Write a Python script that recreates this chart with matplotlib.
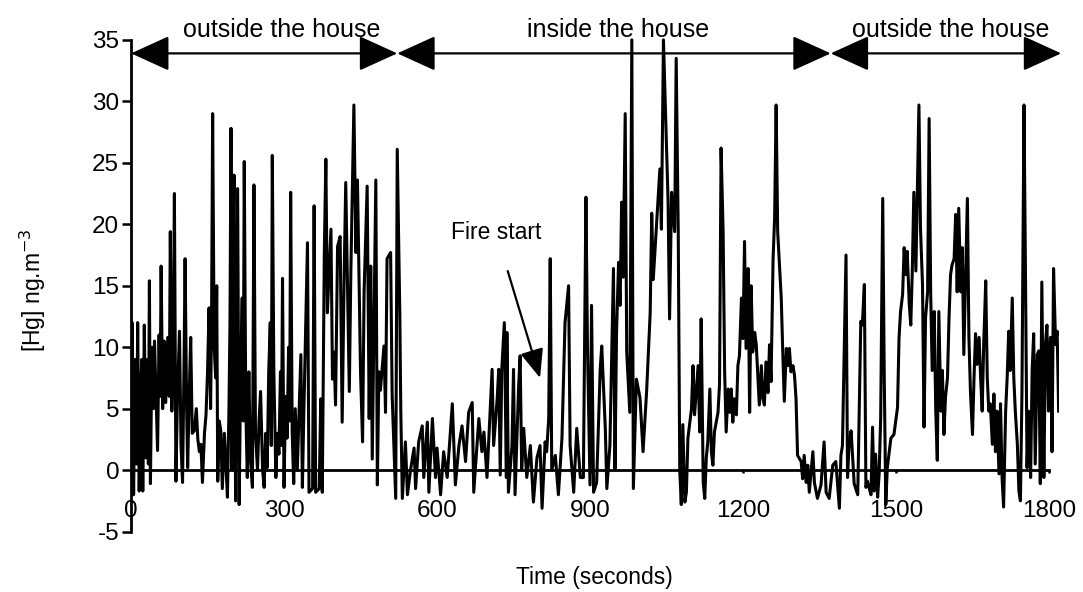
import matplotlib
matplotlib.use('Agg')
import matplotlib.pyplot as plt
from matplotlib.patches import FancyArrowPatch
import numpy as np

plt.rcParams['font.family'] = ['Liberation Sans', 'DejaVu Sans']

time_out1 = [0, 2, 5, 8, 11, 13, 16, 19, 21, 23, 26, 29, 32, 34, 36, 38, 41, 44, 46, 49,
             52, 55, 57, 59, 62, 65, 68, 72, 75, 77, 80, 83, 85, 88, 91, 95, 98, 101, 104, 106,
             109, 111, 114, 117, 120, 124, 128, 131, 134, 137, 140, 144, 147, 150, 153, 156, 158, 160, 163, 166,
             168, 170, 173, 176, 179, 183, 186, 189, 192, 194, 196, 198, 200, 202, 205, 207, 209, 212, 215, 218,
             220, 222, 225, 228, 231, 234, 238, 241, 244, 248, 251, 254, 258, 261, 264, 267, 270, 273, 275, 277,
             280, 284, 287, 290, 293, 295, 297, 300, 303, 306, 309, 311, 313, 316, 319, 322, 326, 329, 333, 336,
             339, 342, 346, 349, 356, 359, 362, 369, 372, 375, 379, 382, 385, 392, 395, 398, 401, 405, 410, 414,
             418, 421, 428, 431, 437, 441, 444, 450, 454, 457, 463, 467, 470, 473, 480, 483, 486, 489, 496, 499,
             502, 509, 512, 519, 522, 527, 529, 532]
hg_out1 = [5, 12, -2, 9, 0.5, 12, -1.7, 6.7, 9, -1.7, 11.8, 1, 9, 0.5, 15.4, -1.1, 10, 5, 10.5, 6,
           1.6, 11, 6, 16.6, 5, 10.5, 5.5, 10.8, 6, 19.4, 4.8, 11, 22.5, -0.9, 6, 11.3, 2, -1, 9, 17.2,
           5, 0.2, 6, 10.8, 3, 3.2, 5, 2.5, 1.5, 2.1, -1, 3, 4.5, 8, 13.2, 5, 13, 29, 10, 7.5,
           15, -0.9, 4, 3.2, -1.5, 3, 0.5, -2.2, 5, 12, 27.8, 0, 18, 24, -2.5, 10, 22.9, -2.8, 8, 14,
           4, 25.1, 5, -0.6, 8, 1, -1.4, 23.2, 3, 0, 4, 6.4, 0, -1.4, 3, 0.2, 8, 12, 2, 25.6,
           8, -0.6, 3, 1.3, 8, 2, 15.6, -1.4, 6, 2.6, 10, 4, 22.6, 3, -1.1, 5, 0, 4, 9.4, -1.4,
           5, 10.8, 18.5, -1.8, -1.5, 21.5, -1.8, -1.5, 5.8, -1.8, 17.7, 25.3, 12.8, 19.6, 7.4, 9.6, 5.3, 18.2, 19, 3.9,
           16.1, 23.4, 6.4, 16.1, 29.7, 17.7, 23.6, 8, 2.3, 14.5, 23.1, 4.2, 16.6, 0.9, 23.6, -1.2, 8, 6.5, 10.1, 4.7,
           17.2, 17.7, 6.1, -2.3, 26.1, 12.8, 4.7, -2.3]

time_in = [538, 542, 548, 555, 558, 564, 571, 574, 581, 584, 591, 597, 600, 607, 613, 620, 630, 636, 643, 649,
           656, 662, 669, 672, 682, 688, 692, 698, 708, 711, 718, 721, 724, 727, 732, 736, 737, 740, 747, 750,
           753, 760, 763, 766, 770, 776, 783, 789, 796, 802, 806, 812, 815, 819, 822, 825, 832, 838, 845, 851,
           858, 861, 868, 874, 881, 887, 892, 895, 900, 903, 907, 913, 920, 923, 930, 933, 939, 946, 949, 952,
           956, 959, 962, 965, 969, 972, 978, 982, 985, 991, 998, 1004, 1011, 1018, 1021, 1024, 1037, 1040, 1044, 1053,
           1056, 1060, 1066, 1069, 1073, 1076, 1079, 1082, 1086, 1089, 1092, 1099, 1102, 1105, 1112, 1115, 1118, 1122, 1125, 1128,
           1131, 1135, 1138, 1141, 1144, 1151, 1154, 1157, 1161, 1164, 1167, 1171, 1174, 1177, 1180, 1183, 1187, 1190, 1193, 1197,
           1200, 1203, 1206, 1210, 1213, 1216, 1219, 1223, 1226, 1229, 1232, 1236, 1239, 1242, 1245, 1249, 1252, 1255, 1259, 1262,
           1265, 1268, 1275, 1278, 1281, 1285, 1288, 1291, 1294, 1298, 1301, 1304, 1307, 1314, 1317, 1320, 1324, 1327, 1330, 1337,
           1340, 1346, 1353, 1359, 1363, 1369]
hg_in = [2.3, -2, 0, 1.8, -1.5, 2.3, 3.6, -0.6, 3.9, -1.8, 4.2, -0.6, 1.8, -2, 1.5, -0.6, 5.4, -1.2, 2, 3.6,
         0.7, 4.7, 5.5, -1.8, 4.2, 1.5, 3.1, -0.6, 8.2, 2, 5.8, 8.2, -0.4, 8.2, 12, -0.6, 11.2, -1.8, 2, 8.2,
         -2, 6.8, 9.3, 0, 3.4, -0.6, 2, -2.6, 1, 2, -3.1, 2.3, 1.5, 4.2, 17.2, 0, 1.2, -2, 2.6, 12,
         15, 2, -1.8, 3.4, -0.6, -0.6, 22.2, 10.1, -1.2, 13.4, -1.8, -1, 8.2, 10.1, 3.4, -1.5, 2, 16.4, 0.1, 11.2,
         16.9, 13.4, 21.8, 15.7, 29, 9.6, 4.7, 35.0, -1.5, 7.4, 5.9, 1.5, 6.4, 12.8, 20.9, 15.5, 24.5, 19.6, 35.0, 22,
         12.3, 22.6, 19.4, 33.5, 19.4, 0, -2.8, 3.7, -2.6, -1.8, 2.6, 5, 8.5, 4.5, 8.5, 3.1, 12.3, -1, -2.3, 1,
         2.3, 6.6, 1.5, 0.4, 3.1, 4.7, 7, 26.2, 19.4, 8, 3.1, 6.6, 4.7, 6.6, 3.9, 5.8, 4.5, 8.5, 9.3, 14,
         10.7, 18.6, 9.9, 16.4, 4.7, 15, 9.6, 11.2, 10.2, 7.7, 5.3, 8.5, 5.8, 5.3, 8.8, 6.3, 10.2, 7.2, 17.2, 20.5,
         29.7, 19.4, 14, 9.6, 5.6, 9.9, 8.5, 9.9, 8, 8.5, 7.7, 5.8, 1.2, 0.7, -0.7, 1.2, -1, 0.4, -1.8, 1.5,
         -1, -2.3, -1.2, 2.3, -1.8, -2.3]

time_out2 = [1376, 1382, 1386, 1389, 1392, 1395, 1402, 1405, 1408, 1412, 1418, 1425, 1431, 1434, 1438, 1441, 1444, 1447, 1451, 1454,
             1457, 1460, 1464, 1467, 1470, 1474, 1477, 1480, 1483, 1490, 1496, 1503, 1506, 1509, 1513, 1516, 1519, 1522, 1526, 1529,
             1532, 1535, 1539, 1542, 1545, 1548, 1552, 1555, 1558, 1562, 1565, 1568, 1571, 1575, 1578, 1581, 1584, 1588, 1591, 1594,
             1597, 1601, 1604, 1607, 1610, 1614, 1617, 1620, 1623, 1627, 1630, 1633, 1637, 1640, 1643, 1646, 1650, 1653, 1656, 1659,
             1663, 1666, 1669, 1672, 1676, 1679, 1682, 1685, 1689, 1692, 1695, 1698, 1702, 1705, 1708, 1711, 1715, 1718, 1721, 1724,
             1728, 1731, 1734, 1738, 1741, 1744, 1747, 1751, 1754, 1757, 1760, 1764, 1767, 1770, 1773, 1777, 1780, 1783, 1786, 1790,
             1793, 1796, 1799, 1803, 1806, 1809, 1813, 1816, 1819]
hg_out2 = [0.4, 0.7, -1.5, -3.1, 1.2, 2, 17.5, -0.6, 2.1, 3.2, -1.1, -2, 12.1, 11.8, 15.1, -1.4, -0.9, -1.4, -2, 3.5,
           -1.7, 1.3, -2.2, -0.3, 4.3, 22.1, 7.5, -2.8, 0.2, 2.6, 2.9, 5.1, 10.8, 12.9, 14.3, 18.1, 15.9, 17.8, 13.5, 11.8,
           16.2, 22.6, 16.2, 22.9, 29.7, 19.7, 15.1, 3.5, 12.4, 14.5, 28.6, 14.5, 8.1, 12.9, 4.8, 0.8, 12.9, 4.8, 8.1, 2.9,
           5.9, 7.5, 12.4, 15.9, 16.7, 17.2, 20.8, 14.5, 21.3, 14.5, 18.1, 9.4, 16.7, 22.1, 10.8, 6.4, 2.9, 7.5, 11.1, 8.6,
           10.8, 7.5, 4.8, 10.2, 15.4, 7.5, 4.8, 5.4, 2.1, 6.2, 1.5, 4.8, -0.3, 5.4, -0.6, -3, 4.8, 7.5, 11.3, 8.1,
           14, 7.5, 4.8, 2.1, -1.7, -2.5, 6.2, 29.7, 15.6, 0.2, 4.8, -0.6, 8.1, 11.1, 0.5, 9.4, 9.7, -1.1, 15.3, -0.6,
           10.2, 11.8, 4.8, 10.8, 1.5, 16.4, 10.2, 11.3, 4.8]

x_ticks = [0, 300, 600, 900, 1200, 1500, 1800]
y_ticks = [-5, 0, 5, 10, 15, 20, 25, 30, 35]
zone_edges = [0, 522, 1372, 1824]
zone_labels = ['outside the house', 'inside the house', 'outside the house']
zone_label_x = [295, 955, 1608]

time_s = np.array(time_out1 + time_in + time_out2)
hg = np.array(hg_out1 + hg_in + hg_out2)

fig = plt.figure(figsize=(10.83, 5.92), dpi=100)
ax = fig.add_axes([0.121, 0.102, 0.857, 0.8826])

ax.plot(time_s, hg, color='black', lw=2.2, zorder=3)

ax.set_xlim(0, 1820)
ax.set_ylim(-5, 37.5)
ax.spines['top'].set_visible(False)
ax.spines['right'].set_visible(False)
ax.spines['bottom'].set_position(('data', 0))
ax.spines['bottom'].set_bounds(0, 1800)
ax.spines['left'].set_bounds(-5, 35)
for s in ['bottom', 'left']:
    ax.spines[s].set_linewidth(2)

ax.set_xticks(x_ticks)
ax.set_yticks(y_ticks)
ax.set_yticklabels([str(v) for v in y_ticks])
ax.tick_params(axis='y', direction='out', length=6.5, width=1.8, labelsize=17.5, pad=2)
ax.tick_params(axis='x', direction='out', length=2.5, width=1.8, labelsize=17.5, pad=19)

# zone arrows along the top
for i in range(3):
    arr = FancyArrowPatch((zone_edges[i], 33.9), (zone_edges[i + 1], 33.9),
                          arrowstyle='<|-|>,head_length=1.1,head_width=0.5',
                          mutation_scale=22, lw=1.6, color='black',
                          shrinkA=0, shrinkB=0, clip_on=False)
    ax.add_patch(arr)
    ax.text(zone_label_x[i], 35.8, zone_labels[i], ha='center', va='center',
            fontsize=18, clip_on=False)

ax.annotate('Fire start', xy=(802, 7.5), xytext=(716, 19.3),
            ha='center', va='center', fontsize=16.5,
            arrowprops=dict(arrowstyle='-|>,head_length=1.1,head_width=0.45',
                            mutation_scale=16, lw=1.6, color='black',
                            shrinkA=18, shrinkB=0))

fig.text(0.03, 0.51, '[Hg] ng.m$^{-3}$', rotation=90, ha='center', va='center', fontsize=16.5)
fig.text(0.549, 0.024, 'Time (seconds)', ha='center', va='center', fontsize=16.5)

fig.savefig('out.png', dpi=100)
